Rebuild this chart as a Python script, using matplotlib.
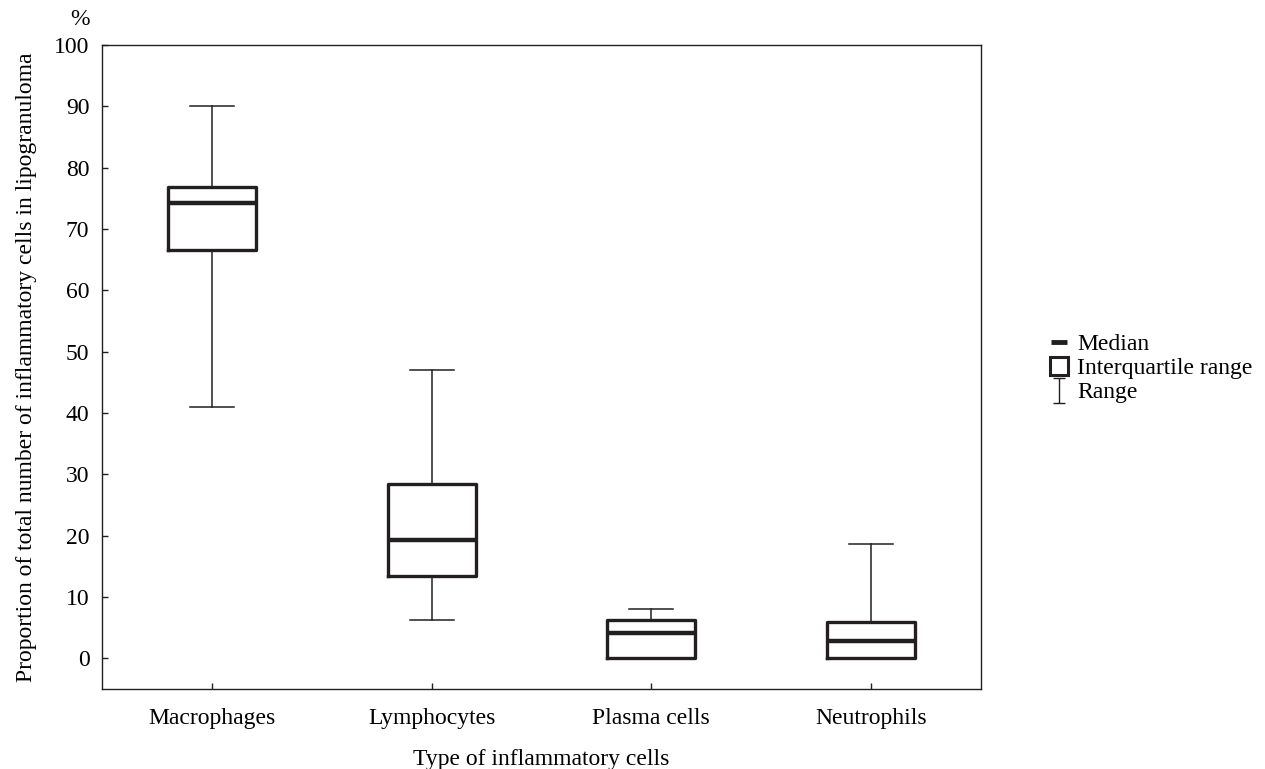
import matplotlib
matplotlib.use("Agg")
from matplotlib import pyplot as plt
from matplotlib.lines import Line2D
from matplotlib.path import Path

cell_types = ["Macrophages", "Lymphocytes", "Plasma cells", "Neutrophils"]
range_min = [41.0, 6.2, 0.0, 0.0]
q1 = [66.6, 13.4, 0.0, 0.0]
median = [74.2, 19.3, 4.1, 2.9]
q3 = [76.9, 28.4, 6.2, 5.9]
range_max = [90.0, 47.0, 8.1, 18.7]
y_ticks = [0, 10, 20, 30, 40, 50, 60, 70, 80, 90, 100]

plt.rcParams['font.family'] = ['Liberation Serif', 'DejaVu Serif']
plt.rcParams['font.size'] = 17

fig = plt.figure(figsize=(12.65, 7.69), dpi=100)
ax = fig.add_axes([0.0806, 0.104, 0.6949, 0.8375])

stats = []
for i in range(len(cell_types)):
    stats.append({"label": cell_types[i], "whislo": range_min[i], "q1": q1[i],
                  "med": median[i], "q3": q3[i], "whishi": range_max[i]})

dark = "#231f20"
ax.bxp(stats, positions=range(1, len(cell_types) + 1), widths=0.4, showfliers=False,
       boxprops=dict(color=dark, linewidth=2.4),
       medianprops=dict(color=dark, linewidth=3.2, solid_capstyle="butt"),
       whiskerprops=dict(color=dark, linewidth=1.1),
       capprops=dict(color=dark, linewidth=1.1),
       capwidths=0.2)

ax.set_xlim(0.5, 4.5)
ax.set_ylim(-5, 100)
ax.set_yticks(y_ticks)
ax.set_xticks(range(1, len(cell_types) + 1))
ax.set_xticklabels(cell_types)
ax.tick_params(direction="in", length=4, width=1, color=dark, labelsize=17)
ax.tick_params(axis="y", pad=9)
ax.tick_params(axis="x", pad=14)
for s in ax.spines.values():
    s.set_color(dark)
    s.set_linewidth(1)

ax.set_ylabel("Proportion of total number of inflammatory cells in lipogranuloma", fontsize=17, labelpad=12)
ax.set_xlabel("Type of inflammatory cells", fontsize=17, labelpad=14)
fig.text(0.0632, 0.974, "%", ha="center", va="center", fontsize=17)

# legend with custom symbols
ibeam = Path([(-0.5, 1), (0.5, 1), (0, 1), (0, -1), (-0.5, -1), (0.5, -1)],
             [Path.MOVETO, Path.LINETO, Path.MOVETO, Path.LINETO, Path.MOVETO, Path.LINETO])
handles = [
    Line2D([], [], linestyle="none", marker="_", markersize=12, markeredgewidth=3.5, color=dark),
    Line2D([], [], linestyle="none", marker="s", markersize=13, markerfacecolor="white",
           markeredgewidth=2.2, markeredgecolor=dark),
    Line2D([], [], linestyle="none", marker=ibeam, markersize=18, markeredgewidth=1.0, color=dark),
]
fig.legend(handles, ["Median", "Interquartile range", "Range"], loc="center left",
           bbox_to_anchor=(0.820, 0.521), frameon=False, handlelength=0.8,
           handletextpad=0.4, labelspacing=0.1, borderpad=0, fontsize=17)

fig.savefig("out.png", dpi=100)
